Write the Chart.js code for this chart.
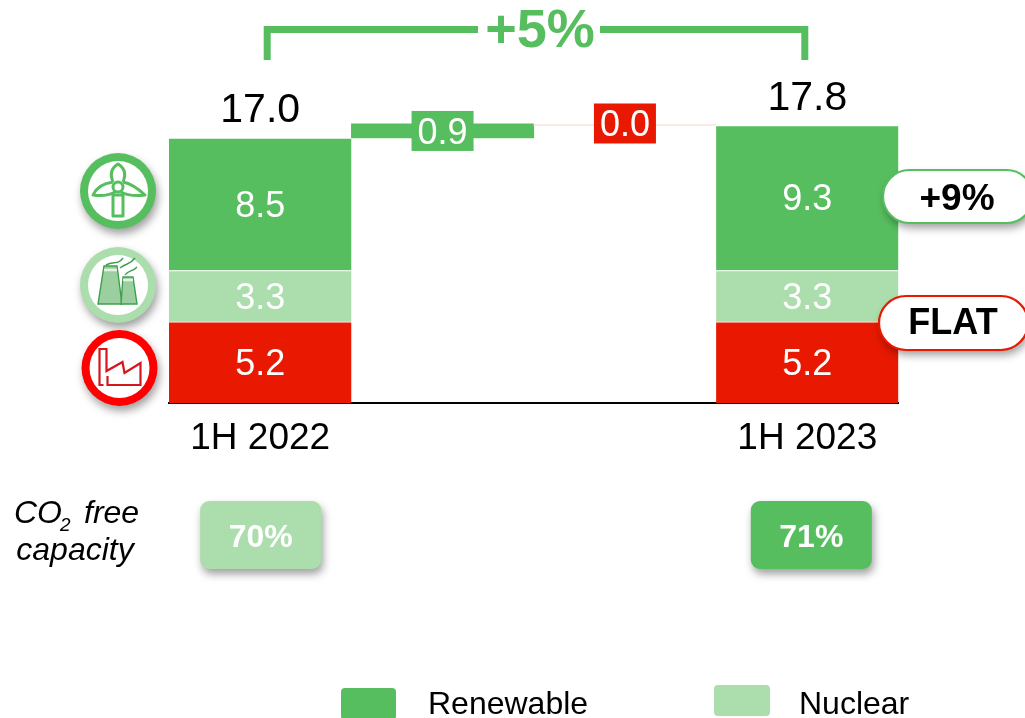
<!DOCTYPE html>
<html><head><meta charset="utf-8">
<script src="https://cdn.jsdelivr.net/npm/chart.js@4"></script>
<style>html,body{margin:0;padding:0;background:#fff;overflow:hidden}canvas{display:block}</style>
</head><body><div style="width:1025px;height:718px"><canvas id="c"></canvas></div>
<script>
const categories = ["1H 2022", "", "", "1H 2023"];
const thermal = [5.2, null, null, 5.2];
const nuclear = [3.3, null, null, 3.3];
const renewable = [8.5, null, null, 9.3];
const change = [null, [17.0, 17.9], [17.8, 17.8], null];
const changeLabels = [null, "0.9", "0.0", null];
const totals = ["17.0", null, null, "17.8"];
const co2Free = ["70%", null, null, "71%"];
const growth = "+5%";
const legendNames = ["Renewable", "Nuclear"];

const GREEN = "#57BE5F", LIGHT = "#ABDEAC", RED = "#E81900";
const FF = '"Liberation Sans", Arial, sans-serif';

function rr(ctx, x, y, w, h, r) { ctx.beginPath(); ctx.roundRect(x, y, w, h, r); }
function shadow(ctx, on) {
  ctx.shadowColor = on ? "rgba(0,0,0,0.38)" : "transparent";
  ctx.shadowBlur = on ? 8 : 0; ctx.shadowOffsetX = on ? 2 : 0; ctx.shadowOffsetY = on ? 5 : 0;
}
function text(ctx, s, x, y, font, color, align) {
  ctx.font = font; ctx.fillStyle = color; ctx.textAlign = align || "center"; ctx.textBaseline = "middle";
  ctx.fillText(s, x, y);
}
function ring(ctx, x, y, color) {
  ctx.save(); shadow(ctx, true);
  ctx.beginPath(); ctx.arc(x, y, 38, 0, Math.PI * 2); ctx.fillStyle = color; ctx.fill();
  shadow(ctx, false);
  ctx.beginPath(); ctx.arc(x, y, 30, 0, Math.PI * 2); ctx.fillStyle = "#fff"; ctx.fill();
  ctx.restore();
}
function poly(ctx, pts) {
  ctx.beginPath(); pts.forEach((p, i) => i ? ctx.lineTo(p[0], p[1]) : ctx.moveTo(p[0], p[1])); ctx.closePath();
}
function windIcon(ctx, x, y) {
  ring(ctx, x, y, GREEN);
  ctx.save(); ctx.translate(x, y); ctx.strokeStyle = GREEN; ctx.lineWidth = 3; ctx.lineJoin = "round";
  poly(ctx, [[-5, 4], [5, 4], [5, 25], [-5, 25]]); ctx.stroke();
  ctx.beginPath(); ctx.moveTo(-5, -9); ctx.quadraticCurveTo(-10, -21, 0, -27); ctx.quadraticCurveTo(10, -21, 5, -9); ctx.stroke();
  ctx.beginPath(); ctx.moveTo(-5, -9); ctx.quadraticCurveTo(-20, -7, -25, 4); ctx.quadraticCurveTo(-12, 6, -3, 1); ctx.stroke();
  ctx.beginPath(); ctx.moveTo(5, -9); ctx.quadraticCurveTo(15, -7, 27, 4); ctx.quadraticCurveTo(12, 6, 3, 1); ctx.stroke();
  ctx.beginPath(); ctx.arc(0, -4, 5, 0, Math.PI * 2); ctx.stroke();
  ctx.restore();
}
function nuclearIcon(ctx, x, y) {
  ring(ctx, x, y, LIGHT);
  ctx.save(); ctx.translate(x, y); ctx.lineWidth = 1.4; ctx.strokeStyle = "#3F9E4D"; ctx.fillStyle = "#9CCF9F";
  poly(ctx, [[-14, -19], [-1, -19], [4, 19], [-20, 19]]); ctx.fill(); ctx.stroke();
  poly(ctx, [[5, -8], [15, -8], [19, 19], [3, 19]]); ctx.fill(); ctx.stroke();
  ctx.strokeStyle = "#E4F2E4"; ctx.lineWidth = 2.5;
  ctx.beginPath(); ctx.moveTo(-14, -15); ctx.lineTo(-1, -15); ctx.moveTo(5, -5); ctx.lineTo(15, -5); ctx.stroke();
  ctx.strokeStyle = "#3F9E4D"; ctx.lineWidth = 1.4;
  ctx.beginPath(); ctx.moveTo(-12, -20); ctx.bezierCurveTo(-4, -24, 0, -20, 5, -27); ctx.moveTo(2, -17); ctx.bezierCurveTo(8, -22, 12, -20, 17, -27); ctx.moveTo(7, -10); ctx.bezierCurveTo(10, -15, 15, -13, 19, -18); ctx.stroke();
  ctx.restore();
}
function factoryIcon(ctx, x, y) {
  ring(ctx, x, y, "#FF0000");
  ctx.save(); ctx.translate(x, y); ctx.strokeStyle = "#D5161C"; ctx.lineWidth = 2.2; ctx.lineJoin = "miter";
  ctx.beginPath(); ctx.moveTo(-16, 17); ctx.lineTo(-20, 17); ctx.lineTo(-20, -19); ctx.lineTo(-13, -19); ctx.lineTo(-13, 3);
  ctx.lineTo(3, -6); ctx.lineTo(5, 5); ctx.lineTo(21, -5); ctx.lineTo(21, 17); ctx.lineTo(-12, 17); ctx.lineTo(-12, 8); ctx.stroke();
  ctx.restore();
}
function pill(ctx, x, y, w, h, color, label, tx, ty, font) {
  ctx.save(); shadow(ctx, true); ctx.fillStyle = "#fff"; rr(ctx, x, y, w, h, h / 2); ctx.fill();
  shadow(ctx, false); ctx.lineWidth = 2.2; ctx.strokeStyle = color; ctx.stroke(); ctx.restore();
  text(ctx, label, tx, ty, font, "#000");
}

const overlay = {
  id: "overlay",
  afterDatasetsDraw(chart) {
    const ctx = chart.ctx, x = chart.scales.x;
    const m0 = chart.getDatasetMeta(0), m1 = chart.getDatasetMeta(1), m2 = chart.getDatasetMeta(2);
    ctx.save();
    // white segment values
    [[thermal, m0], [nuclear, m1], [renewable, m2]].forEach(([arr, m]) => arr.forEach((v, i) => {
      if (v == null) return;
      const el = m.data[i];
      text(ctx, v.toFixed(1), el.x, (el.y + el.base) / 2 + 2.5, "36px " + FF, "#fff");
    }));
    // totals
    totals.forEach((t, i) => {
      if (t == null) return;
      const el = m2.data[i];
      text(ctx, t, el.x, el.y - 27, "41px " + FF, "#000");
    });
    // change labels
    const m3 = chart.getDatasetMeta(3);
    changeLabels.forEach((t, i) => {
      if (t == null) return;
      const el = m3.data[i];
      const col = i === 1 ? GREEN : RED;
      const cy = i === 1 ? (el.y + el.base) / 2 : el.y - 1;
      ctx.fillStyle = col; ctx.fillRect(el.x - 31, cy - 20, 62, 40);
      text(ctx, t, el.x, cy + 3, "36px " + FF, "#fff");
    });
    // growth bracket
    const xl = x.getPixelForValue(0) + 7, xr = x.getPixelForValue(3) - 2.5;
    ctx.strokeStyle = GREEN; ctx.lineWidth = 7; ctx.lineJoin = "miter";
    ctx.beginPath(); ctx.moveTo(xl, 60); ctx.lineTo(xl, 29.5); ctx.lineTo(478, 29.5);
    ctx.moveTo(600, 29.5); ctx.lineTo(xr, 29.5); ctx.lineTo(xr, 60); ctx.stroke();
    text(ctx, growth, 540, 32, "bold 54px " + FF, GREEN);
    // icons
    windIcon(ctx, 118, 191); nuclearIcon(ctx, 118, 285); factoryIcon(ctx, 119.5, 368);
    // pills
    pill(ctx, 883, 170, 150, 53, GREEN, "+9%", 957, 200, "bold 37px " + FF);
    pill(ctx, 879, 296, 149, 54, RED, "FLAT", 953, 324, "bold 36px " + FF);
    // CO2 free capacity
    co2Free.forEach((t, i) => {
      if (t == null) return;
      const cx = i === 0 ? x.getPixelForValue(i) : x.getPixelForValue(i) + 3.5;
      ctx.save(); shadow(ctx, true); ctx.fillStyle = i === 0 ? LIGHT : GREEN;
      rr(ctx, cx - 60, 501, 121, 68, 9); ctx.fill(); ctx.restore();
      text(ctx, t, cx + 0.5, 538, "bold 32px " + FF, "#fff");
    });
    text(ctx, "CO", 14, 514, "italic 32px " + FF, "#000", "left");
    text(ctx, "2", 60, 526, "italic 19px " + FF, "#000", "left");
    text(ctx, "free", 84, 514, "italic 32px " + FF, "#000", "left");
    text(ctx, "capacity", 75, 551, "italic 32px " + FF, "#000");
    // legend
    ctx.fillStyle = GREEN; rr(ctx, 341, 688, 55, 32, 4); ctx.fill();
    ctx.fillStyle = LIGHT; rr(ctx, 714, 685, 56, 31, 4); ctx.fill();
    text(ctx, legendNames[0], 428, 705, "32px " + FF, "#000", "left");
    text(ctx, legendNames[1], 799, 705, "32px " + FF, "#000", "left");
    ctx.restore();
  }
};

const sep = { top: 1, right: 0, bottom: 0, left: 0 };
new Chart(document.getElementById("c"), {
  type: "bar",
  data: {
    labels: categories,
    datasets: [
      { label: "Thermal", data: thermal, backgroundColor: RED, borderColor: "#fff", borderWidth: sep, borderSkipped: false },
      { label: "Nuclear", data: nuclear, backgroundColor: LIGHT, borderColor: "#fff", borderWidth: sep, borderSkipped: false },
      { label: "Renewable", data: renewable, backgroundColor: GREEN, borderColor: "#fff", borderWidth: sep, borderSkipped: false },
      { label: "Change", data: change, backgroundColor: [GREEN, GREEN, "#FBE0DC", GREEN], borderWidth: 0, minBarLength: 1 }
    ]
  },
  options: {
    responsive: true, maintainAspectRatio: false, animation: false,
    layout: { padding: { left: 169, right: 126.5, top: 91.2, bottom: 0 } },
    plugins: { legend: { display: false }, tooltip: { enabled: false } },
    datasets: { bar: { barPercentage: 1, categoryPercentage: 1 } },
    scales: {
      x: {
        stacked: true,
        grid: { display: false, drawTicks: false },
        border: { display: true, color: "#000", width: 2 },
        ticks: { color: "#000", font: { size: 37, family: FF }, padding: 14, autoSkip: false, maxRotation: 0 },
        afterFit(s) { s.height = 315; }
      },
      y: { stacked: true, display: false, min: 0, max: 20 }
    }
  },
  plugins: [overlay]
});
</script></body></html>
